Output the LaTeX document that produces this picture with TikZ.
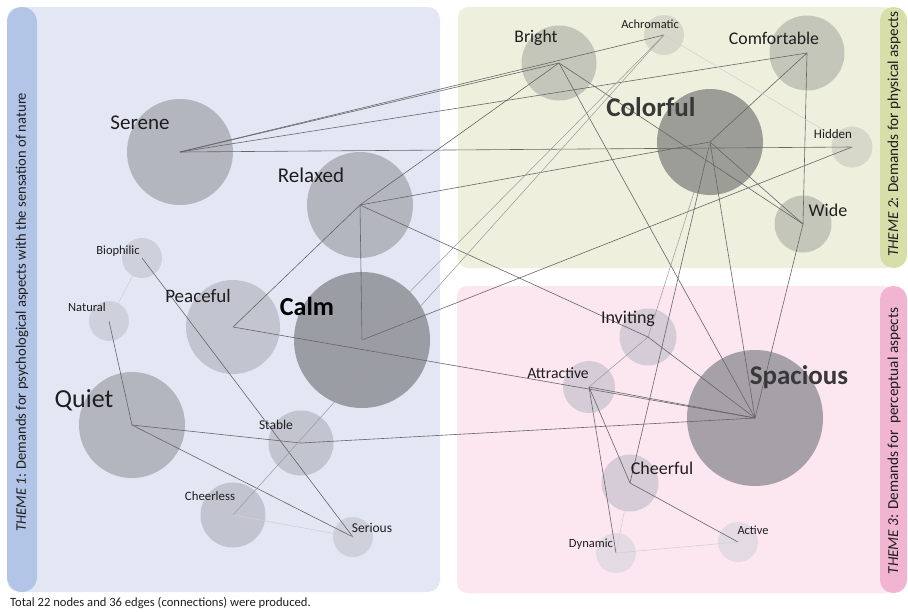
\documentclass[tikz,border=0pt]{standalone}
\usepackage{fontspec}
\setmainfont{Carlito}

\definecolor{psyback}{HTML}{E3E7F4}
\definecolor{psybar}{HTML}{B3C5E6}
\definecolor{phyback}{HTML}{EEF0DD}
\definecolor{phybar}{HTML}{D8DEA8}
\definecolor{perback}{HTML}{FCE6F0}
\definecolor{perbar}{HTML}{F1B5D1}
\definecolor{psyA}{HTML}{9B9DA4}
\definecolor{psyB}{HTML}{B3B6BF}
\definecolor{psyC}{HTML}{C2C5CF}
\definecolor{psyD}{HTML}{CED1DC}
\definecolor{phyA}{HTML}{9C9D96}
\definecolor{phyB}{HTML}{C5C6BA}
\definecolor{phyC}{HTML}{D7D8C9}
\definecolor{perA}{HTML}{A6A1A8}
\definecolor{perB}{HTML}{D6CCD7}
\definecolor{perC}{HTML}{E3DAE4}
\definecolor{labtext}{HTML}{1E1E1E}

\tikzset{
  bubble/.style={circle, inner sep=0pt, minimum size=#1},
  lab/.style={font=\fontsize{#1}{#1}\selectfont, inner sep=0pt, text=labtext},
  conn/.style={draw=black!60, line width=0.6pt},
  connlight/.style={draw=black!38, line width=0.55pt},
  connfaint/.style={draw=black!18, line width=0.55pt},
  theme/.style={font=\fontsize{#1}{#1}\selectfont, rotate=90, inner sep=0pt, text=labtext}
}

\begin{document}
\begin{tikzpicture}[x=1pt, y=-1pt]
\useasboundingbox (0,0) rectangle (908,611);

% panels
\fill[psyback, rounded corners=12pt] (7,7) rectangle (440,592);
\fill[psybar, rounded corners=15pt] (7,7) rectangle (37,592);
\fill[phyback, rounded corners=10pt] (458,7) rectangle (895,268);
\fill[phybar, rounded corners=13pt] (880,7) rectangle (907,268);
\fill[perback, rounded corners=10pt] (457,286) rectangle (895,593);
\fill[perbar, rounded corners=13pt] (880,286) rectangle (907,593);

\node[theme=14.6] (th1) at (22,312) {\textit{THEME 1}: Demands for psychological aspects with the sensation of nature};
\node[theme=15.2] (th2) at (894,134) {\textit{THEME 2}: Demands for physical aspects};
\node[theme=15.2] (th3) at (894,441) {\textit{THEME 3}: Demands for\ \ perceptual aspects};

% bubbles
\node[bubble=106pt, fill=psyB] (serene) at (180,152) {};
\node[bubble=106pt, fill=psyB] (relaxed) at (360,205) {};
\node[bubble=40pt, fill=psyD] (biophilic) at (142,258) {};
\node[bubble=94pt, fill=psyC] (peaceful) at (233,327) {};
\node[bubble=136pt, fill=psyA] (calm) at (362,340) {};
\node[bubble=40pt, fill=psyD] (natural) at (109,321) {};
\node[bubble=106pt, fill=psyB] (quiet) at (132,425) {};
\node[bubble=65pt, fill=psyC] (stable) at (301,443) {};
\node[bubble=65pt, fill=psyC] (cheerless) at (233,515) {};
\node[bubble=40pt, fill=psyD] (serious) at (353,537) {};

\node[bubble=75pt, fill=phyB] (bright) at (559,63) {};
\node[bubble=40pt, fill=phyC] (achromatic) at (664,35) {};
\node[bubble=75pt, fill=phyB] (comfortable) at (807,53) {};
\node[bubble=106pt, fill=phyA] (colorful) at (710,142) {};
\node[bubble=41pt, fill=phyC] (hidden) at (852,147) {};
\node[bubble=57pt, fill=phyB] (wide) at (803,224) {};

\node[bubble=57pt, fill=perB] (inviting) at (648,337) {};
\node[bubble=52pt, fill=perB] (attractive) at (589,387) {};
\node[bubble=136pt, fill=perA] (spacious) at (755,418) {};
\node[bubble=57pt, fill=perB] (cheerful) at (630,483) {};
\node[bubble=40pt, fill=perC] (dynamic) at (616,553) {};
\node[bubble=40pt, fill=perC] (active) at (738,542) {};

% connections
\path[conn]
  (serene.center) edge (achromatic.center)
  edge (bright.center)
  edge (comfortable.center)
  edge (hidden.center)
  (relaxed.center) edge (bright.center)
  edge (colorful.center)
  edge (inviting.center)
  edge (calm.center)
  edge (peaceful.center)
  (calm.center) edge (hidden.center)
  (colorful.center) edge (comfortable.center)
  edge (wide.center)
  edge (spacious.center)
  edge (cheerful.center)
  (bright.center) edge (spacious.center)
  edge (wide.center)
  (comfortable.center) edge (wide.center)
  (wide.center) edge (spacious.center)
  (peaceful.center) edge (spacious.center)
  (quiet.center) edge (stable.center)
  edge (serious.center)
  (stable.center) edge (spacious.center)
  (attractive.center) edge (spacious.center)
  edge (cheerful.center)
  edge (dynamic.center)
  (inviting.center) edge (spacious.center)
  (cheerful.center) edge (active.center)
  (biophilic.center) edge (serious.center)
  (natural.center) edge (quiet.center);
\path[connlight]
  (calm.center) edge (achromatic.center)
  (cheerless.center) edge (achromatic.center)
  (colorful.center) edge (inviting.center)
  (inviting.center) edge (attractive.center);
\path[connfaint]
  (achromatic.center) edge (hidden.center)
  (cheerful.center) edge (dynamic.center)
  (dynamic.center) edge (active.center)
  (biophilic.center) edge (natural.center)
  (cheerless.center) edge (serious.center);

% labels
\node[lab=21] (serene-t) at (140,123) {Serene};
\node[lab=21] (relaxed-t) at (311,175) {Relaxed};
\node[lab=12.5] (biophilic-t) at (118,251) {Biophilic};
\node[lab=19] (peaceful-t) at (198,296) {Peaceful};
\node[lab=26, font=\fontsize{26}{26}\selectfont\bfseries, text=black] (calm-t) at (307,306) {Calm};
\node[lab=12.5] (natural-t) at (87,307) {Natural};
\node[lab=26] (quiet-t) at (84,400) {Quiet};
\node[lab=13.5] (stable-t) at (276,425) {Stable};
\node[lab=12.8] (cheerless-t) at (210,496) {Cheerless};
\node[lab=13.5] (serious-t) at (372,528) {Serious};

\node[lab=17.7] (bright-t) at (536,38) {Bright};
\node[lab=12.4] (achromatic-t) at (650,24) {Achromatic};
\node[lab=17.8] (comfortable-t) at (774,38) {Comfortable};
\node[lab=27, font=\fontsize{27}{27}\selectfont\bfseries, text=black!78] (colorful-t) at (651,107) {Colorful};
\node[lab=13] (hidden-t) at (833,134) {Hidden};
\node[lab=18] (wide-t) at (828,210) {Wide};

\node[lab=18] (inviting-t) at (628,319) {Inviting};
\node[lab=15.7] (attractive-t) at (558,373) {Attractive};
\node[lab=27, font=\fontsize{27}{27}\selectfont\bfseries, text=black!78] (spacious-t) at (799,377) {Spacious};
\node[lab=18] (cheerful-t) at (662,468) {Cheerful};
\node[lab=12.5] (dynamic-t) at (591,544) {Dynamic};
\node[lab=12.4] (active-t) at (753,530) {Active};

\node[lab=12.6, anchor=west] (caption) at (10,603) {Total 22 nodes and 36 edges (connections) were produced.};
\end{tikzpicture}
\end{document}
